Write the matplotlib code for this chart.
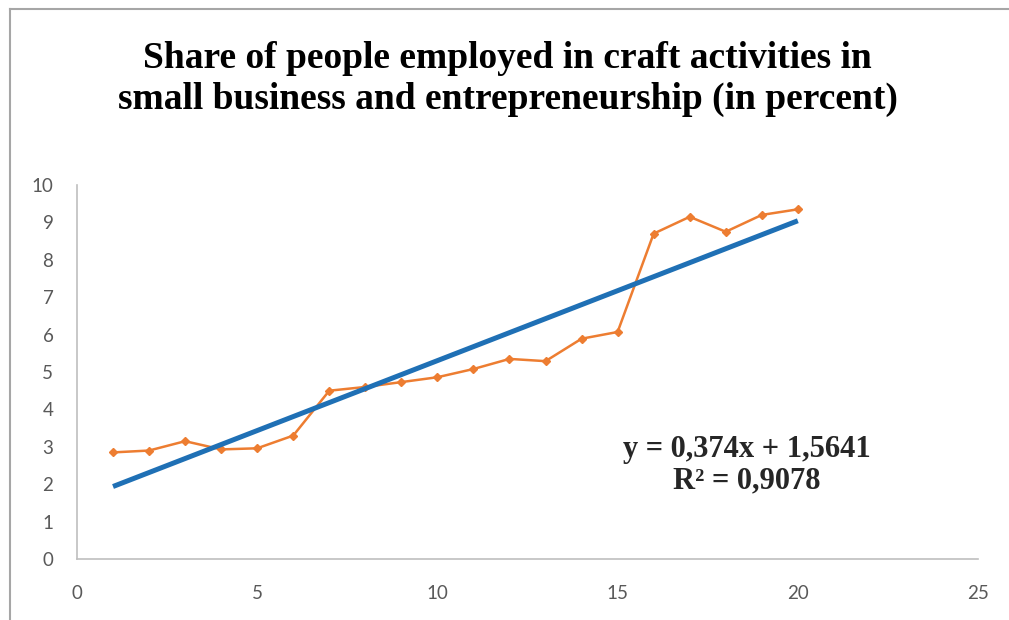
import matplotlib
matplotlib.use("Agg")
import matplotlib.pyplot as plt
from matplotlib.lines import Line2D
import numpy as np

# observation index and share (in percent)
x = [1, 2, 3, 4, 5, 6, 7, 8, 9, 10, 11, 12, 13, 14, 15, 16, 17, 18, 19, 20]
share = [2.85, 2.9, 3.15, 2.93, 2.96, 3.3, 4.5, 4.6, 4.73, 4.86, 5.08, 5.35, 5.29,
         5.89, 6.07, 8.7, 9.15, 8.75, 9.2, 9.35]

# linear trend as reported on the chart
slope = 0.374
intercept = 1.5641
r2 = 0.9078

title = "Share of people employed in craft activities in\nsmall business and entrepreneurship (in percent)"

orange = "#ED7D31"
blue = "#1F70B5"
grey_txt = "#595959"

fig = plt.figure(figsize=(10.09, 6.2), dpi=100)
ax = fig.add_axes([0.0763, 0.0984, 0.8930, 0.6032])

ax.plot(x, share, color=orange, lw=1.8, marker="D", ms=4.5, zorder=3)

xt = np.array([x[0], x[-1]])
ax.plot(xt, slope * xt + intercept, color=blue, lw=3.6, solid_capstyle="butt", zorder=4)

ax.set_xlim(0, 25)
ax.set_ylim(0, 10)
ax.set_xticks([0, 5, 10, 15, 20, 25])
ax.set_yticks(range(0, 11))
for s in ["top", "right"]:
    ax.spines[s].set_visible(False)
for s in ["left", "bottom"]:
    ax.spines[s].set_color("#BFBFBF")
    ax.spines[s].set_linewidth(1.2)
ax.tick_params(axis="both", length=0, labelsize=13.5, labelcolor=grey_txt)
ax.tick_params(axis="y", pad=17)
ax.tick_params(axis="x", pad=19)
for lab in ax.get_xticklabels() + ax.get_yticklabels():
    lab.set_family("Lato")

fig.text(0.503, 0.873, title, ha="center", va="center", fontsize=27,
         fontweight="bold", family="Liberation Serif", linespacing=1.2)

ax.text(18.58, 2.5, "y = 0,%sx + %s\nR² = %s" % (str(slope)[2:], str(intercept).replace(".", ","),
                                                 str(r2).replace(".", ",")),
        ha="center", va="center", fontsize=22, fontweight="bold",
        family="Liberation Serif", linespacing=1.1, color="#262626")

# chart frame
fig.add_artist(Line2D([0.0099, 1.0], [0.9855, 0.9855], transform=fig.transFigure,
                      color="#A6A6A6", lw=1.5))
fig.add_artist(Line2D([0.0099, 0.0099], [0.0, 0.9855], transform=fig.transFigure,
                      color="#A6A6A6", lw=1.5))

fig.savefig("out.png", dpi=100)
